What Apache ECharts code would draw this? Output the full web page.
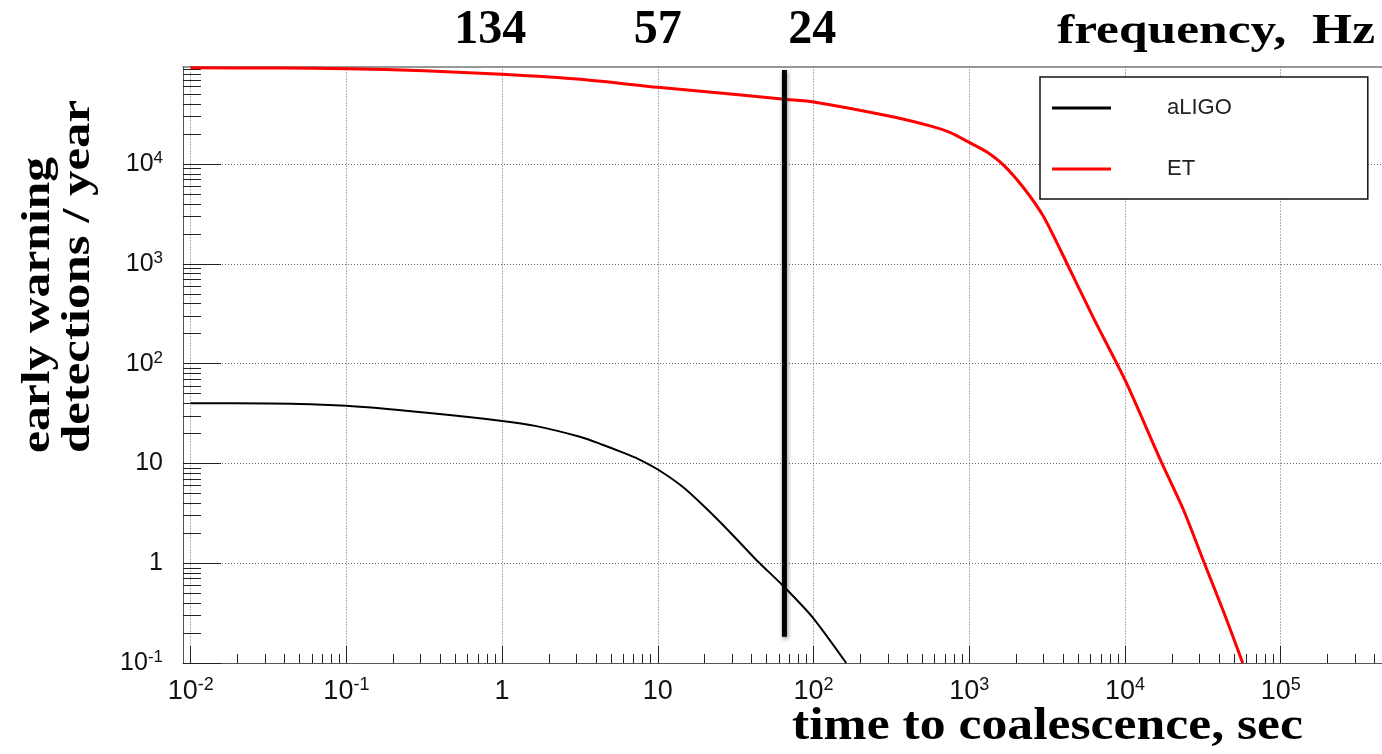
<!DOCTYPE html>
<html>
<head>
<meta charset="utf-8">
<script src="https://cdn.jsdelivr.net/npm/echarts@6/dist/echarts.min.js"></script>
<style>
  html, body { margin: 0; padding: 0; background: #fff; }
  #chart { width: 1382px; height: 754px; }
</style>
</head>
<body>
<div id="chart"></div>
<script>
// early warning detections / year vs time to coalescence (sec)
var aligoTime = [0.01, 0.032, 0.1, 0.316, 1, 1.63, 3.16, 4.37, 6.1, 7.4, 10, 14.3, 19.8, 29.5, 43.4, 63, 98, 162];
var aligoRate = [40.2, 40.0, 37.8, 32.4, 26.7, 23.8, 18.5, 15.5, 12.7, 11.2, 8.7, 5.9, 3.72, 2.0, 1.06, 0.605, 0.29, 0.1];

var etTime = [0.01, 0.038, 0.1, 0.316, 1, 3.16, 10, 33, 65, 100, 316, 575, 750, 1000, 1290, 1660, 2230, 2990, 4240, 6280, 10000, 16900, 23900, 32100, 43200, 57000];
var etRate = [92600, 91800, 90500, 86400, 79400, 70800, 58900, 49700, 44700, 42000, 30000, 23900, 20800, 16500, 13300, 9770, 5800, 3000, 1010, 286, 68.7, 10.8, 3.34, 1.03, 0.319, 0.1];

// thick vertical marker line
var markerTime = [65, 65];
var markerRate = [0.183, 87700];

// axes
var xDecades = [0.01, 0.1, 1, 10, 100, 1000, 10000, 100000];
var yDecades = [0.1, 1, 10, 100, 1000, 10000];
var minorSteps = [2, 3, 4, 5, 6, 7, 8, 9];
var freqTime = [0.84, 10, 98];
var freqLabels = ['134', '57', '24'];

var xMin = 0.00893, xMax = 447000;
var yMin = 0.1, yMax = 95200;

function pairs(xs, ys) {
  return xs.map(function (x, i) { return [x, ys[i]]; });
}

function minors(decades, lo, hi) {
  var out = [];
  decades.forEach(function (d) {
    minorSteps.forEach(function (m) {
      var v = d * m;
      if (v > lo && v < hi) out.push(v);
    });
  });
  return out;
}

function powLabel(v) {
  var e = Math.round(Math.log10(v));
  if (e === 0) return '{b|1}';
  if (e === 1) return '{b|10}';
  return '{b|10}{s|' + e + '}';
}

function freqLabel(v) {
  var best = 0;
  freqTime.forEach(function (t, i) {
    if (Math.abs(Math.log10(t) - Math.log10(v)) < Math.abs(Math.log10(freqTime[best]) - Math.log10(v))) best = i;
  });
  return freqLabels[best];
}

// stretch serif titles to the widths of the original (wider) face
var ctx = document.createElement('canvas').getContext('2d');
function serif(size) { return 'bold ' + size + 'px "Liberation Serif"'; }
function fit(text, size, width) {
  ctx.font = serif(size);
  return width / ctx.measureText(text).width;
}

function title(text, x, y, size, width, rot) {
  return {
    type: 'text', x: x, y: y, rotation: rot || 0,
    scaleX: fit(text, size, width),
    style: {
      text: text, font: serif(size), fill: '#000',
      textAlign: 'left', textVerticalAlign: 'middle', align: 'left', verticalAlign: 'middle'
    }
  };
}

var myChart = echarts.init(document.getElementById('chart'));

var gridDots = { color: '#666', width: 1, type: [1, 2] };
var tickLine = { color: '#222', width: 1 };

var option = {
  animation: false,
  grid: { left: 183, top: 66.5, right: -6, bottom: 91 },
  legend: {
    data: ['aLIGO', 'ET'],
    orient: 'vertical',
    left: 1040, top: 77,
    icon: 'rect', itemWidth: 59, itemHeight: 3, itemGap: 39,
    padding: [20, 136, 19, 12],
    backgroundColor: '#fff', borderColor: '#111', borderWidth: 1.5, borderRadius: 0,
    selectedMode: false,
    textStyle: { fontFamily: 'Liberation Sans', fontSize: 22, color: '#222', lineHeight: 20, padding: [0, 0, 0, 51] }
  },
  xAxis: [
    {
      type: 'log', min: xMin, max: xMax, position: 'bottom',
      axisLine: { show: true, onZero: false, lineStyle: { color: '#555', width: 1 } },
      axisTick: { show: true, inside: true, length: 17, customValues: xDecades, lineStyle: tickLine },
      axisLabel: {
        show: true, customValues: xDecades, formatter: powLabel, margin: 13,
        rich: {
          b: { fontFamily: 'Liberation Sans', fontSize: 27, lineHeight: 31, color: '#111' },
          s: { fontFamily: 'Liberation Sans', fontSize: 18, lineHeight: 15, color: '#111', verticalAlign: 'top' }
        }
      },
      splitLine: { show: true, lineStyle: gridDots }
    },
    {
      type: 'log', min: xMin, max: xMax, position: 'bottom',
      axisLine: { show: false, onZero: false },
      axisTick: { show: true, inside: true, length: 9, customValues: minors(xDecades, xMin, xMax), lineStyle: tickLine },
      axisLabel: { show: false },
      splitLine: { show: false }
    },
    {
      type: 'log', min: xMin, max: xMax, position: 'top',
      axisLine: { show: true, onZero: false, lineStyle: { color: '#777', width: 1.5 } },
      axisTick: { show: false },
      axisLabel: {
        show: true, customValues: freqTime, formatter: freqLabel, margin: 12,
        fontFamily: 'Liberation Serif', fontWeight: 'bold', fontSize: 48, lineHeight: 48, color: '#000'
      },
      splitLine: { show: false }
    }
  ],
  yAxis: [
    {
      type: 'log', min: yMin, max: yMax, position: 'left',
      axisLine: { show: true, onZero: false, lineStyle: { color: '#555', width: 1 } },
      axisTick: { show: true, inside: true, length: 38, customValues: yDecades, lineStyle: tickLine },
      axisLabel: {
        show: true, customValues: yDecades, formatter: powLabel, margin: 20,
        rich: {
          b: { fontFamily: 'Liberation Sans', fontSize: 25, lineHeight: 28, color: '#111' },
          s: { fontFamily: 'Liberation Sans', fontSize: 17, lineHeight: 14, color: '#111', verticalAlign: 'top' }
        }
      },
      splitLine: { show: true, lineStyle: gridDots }
    },
    {
      type: 'log', min: yMin, max: yMax, position: 'left',
      axisLine: { show: false, onZero: false },
      axisTick: { show: true, inside: true, length: 18, customValues: minors(yDecades, yMin, yMax), lineStyle: tickLine },
      axisLabel: { show: false },
      splitLine: { show: false }
    }
  ],
  graphic: [
    title('frequency,  Hz', 1057, 32.2, 43, 318),
    title('time to coalescence, sec', 792, 727.5, 46, 511),
    title('early warning', 38.7, 453, 39, 296, Math.PI / 2),
    title('detections / year', 78.7, 453, 39, 353, Math.PI / 2)
  ],
  series: [
    {
      name: 'aLIGO', type: 'line', data: pairs(aligoTime, aligoRate),
      symbol: 'none', smooth: 0.25,
      lineStyle: { color: '#000', width: 2 }, itemStyle: { color: '#000' }, z: 3
    },
    {
      name: 'ET', type: 'line', data: pairs(etTime, etRate),
      symbol: 'none', smooth: 0.25,
      lineStyle: { color: '#ff0000', width: 3 }, itemStyle: { color: '#ff0000' }, z: 3
    },
    {
      name: 'marker', type: 'line', data: pairs(markerTime, markerRate),
      symbol: 'none',
      lineStyle: { color: '#000', width: 5, shadowBlur: 4, shadowColor: 'rgba(0,0,0,0.45)', shadowOffsetX: 1, shadowOffsetY: 2 },
      z: 4
    }
  ]
};

myChart.setOption(option);
window.onresize = () => myChart.resize()
</script>
</body>
</html>
